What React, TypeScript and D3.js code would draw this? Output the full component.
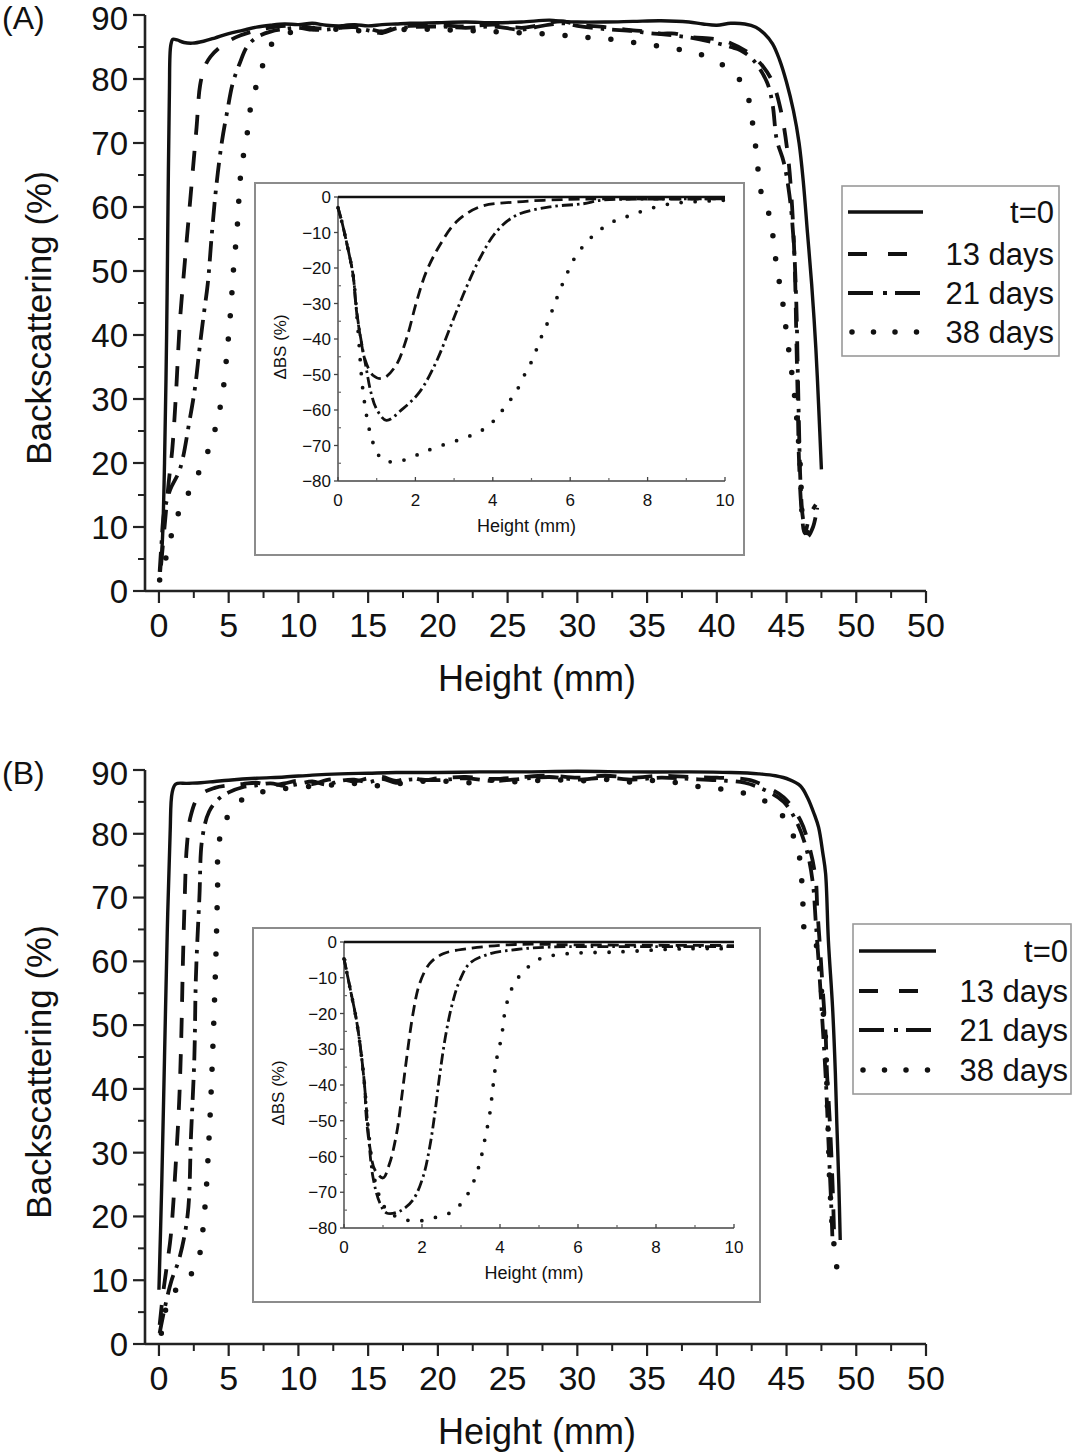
import React from "react";
import * as d3 from "d3";

type P = [number, number];

// ---------- tick labels / categories ----------
const MAIN_X_TICKS = [0, 5, 10, 15, 20, 25, 30, 35, 40, 45, 50, 55];
const MAIN_X_LABELS = ["0", "5", "10", "15", "20", "25", "30", "35", "40", "45", "50", "50"];
const MAIN_Y_TICKS = [0, 10, 20, 30, 40, 50, 60, 70, 80, 90];
const INSET_X_TICKS = [0, 2, 4, 6, 8, 10];
const INSET_Y_TICKS = [0, -10, -20, -30, -40, -50, -60, -70, -80];
const LEGEND_LABELS = ["t=0", "13 days", "21 days", "38 days"];

// ---------- Panel A main series: [height mm, backscattering %] ----------
const A_T0: P[] = [[0.1,3],[0.25,8],[0.4,20],[0.55,40],[0.65,60],[0.75,78],[0.85,85.3],[1.0,86.2],[1.3,86.1],[1.8,85.7],[2.4,85.6],[3.2,85.9],[4,86.4],[5,87.1],[6,87.6],[7,88.1],[8,88.4],[9,88.6],[10,88.5],[11,88.7],[12,88.4],[13,88.3],[14,88.5],[15,88.3],[16,88.5],[17,88.6],[18,88.7],[20,88.8],[22,88.9],[24,88.8],[26,88.9],[28,89.2],[29,89.0],[30,88.9],[32,88.9],[34,89.0],[36,89.1],[38,88.9],[39,88.6],[40,88.4],[41,88.7],[42,88.6],[42.8,88.1],[43.4,87.1],[44,85.5],[44.5,83],[45,79.5],[45.5,75],[45.9,70],[46.2,64],[46.5,56],[46.8,48],[47.1,38],[47.3,29],[47.5,19]];
const A_D13: P[] = [[0.15,4],[0.4,10],[0.7,17],[0.95,22],[1.2,30],[1.5,42],[1.8,50],[2.1,57.5],[2.4,65],[2.7,72.5],[2.95,79],[3.3,82],[3.7,83.5],[4.4,85],[5.5,86.5],[7,87.6],[8.5,88.2],[10,88.3],[11,88],[12,87.9],[13,88.2],[14,88.4],[15,87.9],[16,87.4],[17,88.1],[18,88.3],[20,88.4],[22,88.2],[24,88.5],[26,88],[27,88.3],[28,88.8],[29,89],[30,88.5],[32,88.1],[34,87.6],[35,87.4],[36,87.1],[37,87.1],[38,86.6],[40,86.2],[41,85.6],[42.2,84.2],[43.3,82],[44,79.5],[44.6,75],[45.1,68],[45.4,60],[45.6,50],[45.7,40],[45.8,30],[45.9,20],[46.1,12],[46.3,9],[46.7,12],[47.1,13.5]];
const A_D21: P[] = [[0.05,3],[0.2,8],[0.35,12],[0.8,15.8],[1.5,19],[2.2,26.7],[2.6,32],[2.9,37.7],[3.2,43],[3.5,48],[3.8,56],[4.1,63],[4.5,70],[4.9,75],[5.3,79.4],[5.8,82.5],[6.3,85],[7,86.5],[8,87.4],[9,87.8],[10,88],[11,87.7],[12,87.7],[13,88],[14,88.1],[15,87.6],[16,87.2],[17,87.9],[18,88.1],[20,88.2],[22,88],[24,88.2],[26,87.7],[27,88.1],[28,88.5],[29,88.7],[30,88.3],[32,87.8],[34,87.5],[35,87.2],[36,87],[38,86.5],[40,85.6],[41,85],[41.7,84.5],[42.6,83],[43.6,79.5],[44,76],[44.3,70.5],[44.8,67],[45.2,62],[45.5,55],[45.7,45],[45.8,35],[45.9,25],[46.0,17],[46.2,11],[46.5,8.5],[46.9,10],[47.2,13]];
const A_D38: P[] = [[0.05,1.7],[0.3,3.3],[0.8,8],[1.5,12.7],[2.6,17.3],[3.8,23.6],[4.5,30],[4.9,37.7],[5.2,45.5],[5.3,49],[5.45,52.8],[5.6,56.4],[5.7,60],[5.8,63.7],[6.0,67.3],[6.3,71],[6.5,74.7],[6.9,78.3],[7.4,81.9],[8.2,85.8],[9,87],[10,87.5],[11,87.9],[12,87.6],[13,87.8],[14,87.5],[15,87.7],[16,87.3],[17,87.6],[18,87.8],[20,87.7],[22,87.6],[24,87.4],[26,87.2],[28,87],[30,86.6],[32,86.3],[34,85.7],[36,85.1],[38,84.3],[39.5,83.3],[40.7,81.8],[41.5,80.3],[42.3,76.7],[42.6,72.5],[42.9,67.3],[43.1,63],[43.8,58.4],[44.3,50.6],[44.7,45.5],[45,40.3],[45.6,30],[46,19],[46.2,11],[46.7,8.5],[47.1,8.3]];

// ---------- Panel B main series ----------
const B_T0: P[] = [[0.0,8.5],[0.2,25],[0.4,45],[0.6,65],[0.8,80],[0.95,86.5],[1.2,87.8],[2,87.9],[3,88],[4,88.2],[5,88.4],[7,88.7],[9,88.9],[11,89.2],[13,89.4],[15,89.5],[17,89.6],[20,89.6],[23,89.7],[26,89.7],[30,89.8],[34,89.7],[38,89.7],[41,89.6],[43,89.4],[44.2,89.1],[45.2,88.5],[46,87.5],[46.5,85.7],[47,83],[47.3,81],[47.6,77],[47.8,73.8],[48.0,63.3],[48.3,52.8],[48.5,42.5],[48.6,35],[48.75,25],[48.85,16.3]];
const B_D13: P[] = [[0.05,3],[0.3,8],[0.55,12],[0.85,17],[1.2,28],[1.45,38],[1.6,48],[1.72,60],[1.85,70],[2.0,78],[2.3,83],[2.9,86],[4,87.2],[5,87.6],[6,87.8],[7,88],[8,87.6],[9,87.9],[10,88.3],[11,87.8],[12,88.4],[13,88.6],[14,88.2],[15,88.7],[16,88.9],[17,88.3],[18,88.8],[19,88.4],[20,88.7],[22,88.9],[24,88.6],[26,88.9],[28,89.1],[30,88.8],[32,89.1],[34,88.8],[36,89.1],[38,88.9],[40,88.8],[42.4,88.4],[43.6,87.3],[44.8,85.7],[46,82.1],[46.7,77.4],[47.1,72.7],[47.2,68.5],[47.4,62.2],[47.6,55.5],[47.8,48.7],[47.9,42.5],[48.1,35],[48.3,25],[48.4,18]];
const B_D21: P[] = [[0.05,1.7],[0.4,5.5],[0.88,9.8],[1.47,13.5],[2.06,20.3],[2.3,32.7],[2.54,45],[2.65,57.5],[2.9,70],[3.1,79.2],[3.6,83.5],[4.3,85.5],[5,86.5],[6,87.3],[7,87.6],[8,87.9],[9,87.5],[10,87.8],[11,88.2],[12,87.7],[13,88.3],[14,88.5],[15,88.1],[16,88.6],[17,88],[18,88.5],[20,88.4],[22,88.7],[24,88.3],[26,88.6],[28,88.9],[30,88.5],[32,88.8],[34,88.5],[36,88.8],[38,88.6],[40,88.4],[42,88],[43.5,86.8],[44.8,85],[45.8,81.5],[46.5,77],[46.9,72],[47.1,66],[47.3,60],[47.5,53],[47.7,46],[47.85,40],[48.0,32],[48.2,22],[48.3,16]];
const B_D38: P[] = [[0.17,1.7],[0.5,5.5],[1.0,8],[1.8,9.5],[2.77,12.9],[3.25,20.3],[3.6,32.7],[3.84,45],[4.08,60.5],[4.2,71],[4.3,78.6],[4.9,82.6],[5.5,84.5],[6.5,86],[8,86.8],[10,87.3],[12,87.6],[14,87.9],[16,87.5],[18,88.1],[20,88.3],[22,88],[24,88.4],[26,88.1],[28,88.5],[30,88.3],[32,88.5],[34,88.1],[36,88.4],[38,87.6],[40,87.1],[41.7,86.5],[43.3,85.3],[44.8,82.6],[45.6,79],[46,75.4],[46.1,72.3],[46.2,68],[46.3,64.9],[47.2,62.2],[47.4,58.1],[47.6,52.8],[47.8,47.6],[47.9,39.8],[47.95,35.9],[48,32.3],[48.05,28.5],[48.1,24.9],[48.2,21.3],[48.3,17.6],[48.5,13.9],[48.7,10.2]];

// ---------- Inset series: [height mm, ΔBS %] ----------
const INSET_T0: P[] = [[0,0],[10,0]];
const IA_D13: P[] = [[0,-3],[0.1,-7],[0.22,-12.7],[0.39,-22],[0.47,-31.4],[0.6,-40.8],[0.69,-45.5],[0.9,-50.2],[1.16,-51.1],[1.5,-47.4],[1.77,-39.9],[2.03,-29.5],[2.28,-21.1],[2.63,-13.6],[3.06,-7],[3.66,-2.8],[4.6,-1.4],[5.9,-0.7],[7,-0.5],[8.5,-0.6],[10,-0.5]];
const IA_D21: P[] = [[0,-3],[0.1,-7],[0.22,-12.7],[0.39,-22],[0.47,-31],[0.56,-38],[0.73,-48.3],[0.85,-55],[0.99,-59.6],[1.25,-62.9],[1.68,-59.6],[2.11,-54.9],[2.54,-46.4],[2.89,-37],[3.23,-27.7],[3.66,-17.4],[4.09,-9.8],[4.6,-5.2],[5.47,-2.8],[6.34,-1.9],[6.8,-0.9],[8,-0.6],[10,-0.5]];
const IA_D38: P[] = [[0,-3],[0.1,-7],[0.22,-12.7],[0.39,-22],[0.5,-35],[0.65,-55],[0.82,-66],[0.95,-70.4],[1.16,-74.1],[1.59,-74.4],[2.03,-72.7],[2.46,-70.8],[3.23,-68],[3.66,-66.1],[4.0,-63.3],[4.35,-58.6],[4.6,-54.9],[4.86,-49.2],[5.04,-45.5],[5.2,-40.8],[5.39,-36.1],[5.65,-28.6],[5.9,-22],[6.16,-16.4],[6.6,-10.8],[7.1,-7],[7.55,-5.2],[8.05,-3.3],[8.6,-1.9],[9.1,-1.4],[10,-0.9]];
const IB_D13: P[] = [[0,-4.7],[0.15,-12.6],[0.32,-21.9],[0.44,-31.2],[0.53,-40.5],[0.57,-48.8],[0.66,-57.2],[0.79,-63.7],[1.0,-66],[1.17,-61.9],[1.35,-53.5],[1.47,-44.2],[1.6,-33],[1.77,-20],[1.94,-11.6],[2.2,-6],[2.54,-3.3],[3.14,-1.9],[4.4,-0.7],[6,-0.8],[8,-0.9],[10,-1]];
const IB_D21: P[] = [[0,-4.7],[0.15,-12.6],[0.32,-21.9],[0.44,-31.2],[0.53,-40.5],[0.6,-50],[0.74,-65.6],[0.92,-73],[1.09,-75.8],[1.43,-75.3],[1.77,-72.1],[2.03,-65.6],[2.2,-57.2],[2.33,-47.9],[2.46,-36.7],[2.63,-24.7],[2.8,-16.3],[2.97,-10.7],[3.22,-6],[3.74,-3.3],[4.42,-2.1],[5.28,-1.4],[7,-1.3],[10,-1.3]];
const IB_D38: P[] = [[0,-4.7],[0.15,-12.6],[0.32,-21.9],[0.44,-31.2],[0.53,-40.5],[0.62,-52],[0.83,-68.4],[1.09,-74.9],[1.43,-77.2],[1.86,-78.1],[2.28,-77.2],[2.71,-75.8],[3.05,-72.6],[3.31,-67.4],[3.48,-61.9],[3.61,-55.3],[3.74,-47.9],[3.82,-40.5],[3.91,-33],[4.04,-26.5],[4.12,-20],[4.25,-14.4],[4.42,-10.7],[4.68,-7.4],[5.02,-4.7],[5.7,-3.3],[6.99,-2.8],[8.7,-1.9],[10,-1.9]];

const FONT = '"Liberation Sans", Arial, Helvetica, sans-serif';
const INK = "#111";

type Sty = { dash?: string; w: number; cap: "butt" | "round" };
const MAIN_STY: Sty[] = [
  { w: 3.4, cap: "butt" },
  { dash: "20 16", w: 3.8, cap: "butt" },
  { dash: "20 8 3.5 8", w: 3.8, cap: "butt" },
  { dash: "0 23", w: 5.5, cap: "round" },
];
const INSET_STY: Sty[] = [
  { w: 2.6, cap: "butt" },
  { dash: "11 6", w: 2.8, cap: "butt" },
  { dash: "11 4 2.5 4", w: 2.8, cap: "butt" },
  { dash: "0 14", w: 3.8, cap: "round" },
];
const LEGEND_STY: Sty[] = [
  { w: 3.6, cap: "butt" },
  { dash: "19 21", w: 3.8, cap: "butt" },
  { dash: "25 10 4 8", w: 3.8, cap: "butt" },
  { dash: "0 21.5", w: 5.5, cap: "round" },
];

type PanelCfg = {
  label: string;
  yTop: number;
  yBot: number;
  series: P[][];
  inset: { fx0: number; fy0: number; fx1: number; fy1: number; ax0: number; ax1: number; ay0: number; ay1: number; series: P[][] };
  legend: { x0: number; y0: number; x1: number; y1: number; lx0: number; lx1: number; tx: number; ys: number[] };
};

const PANELS: PanelCfg[] = [
  {
    label: "(A)",
    yTop: 15,
    yBot: 591,
    series: [A_T0, A_D13, A_D21, A_D38],
    inset: { fx0: 255, fy0: 183, fx1: 744, fy1: 555, ax0: 338, ax1: 725, ay0: 197, ay1: 481, series: [INSET_T0, IA_D13, IA_D21, IA_D38] },
    legend: { x0: 842, y0: 186, x1: 1059, y1: 356, lx0: 848, lx1: 923, tx: 1054, ys: [212, 254, 293, 332] },
  },
  {
    label: "(B)",
    yTop: 770,
    yBot: 1344,
    series: [B_T0, B_D13, B_D21, B_D38],
    inset: { fx0: 253, fy0: 928, fx1: 760, fy1: 1302, ax0: 344, ax1: 734, ay0: 942, ay1: 1228, series: [INSET_T0, IB_D13, IB_D21, IB_D38] },
    legend: { x0: 853, y0: 924, x1: 1071, y1: 1094, lx0: 859, lx1: 936, tx: 1068, ys: [951, 991, 1030, 1070] },
  },
];

function Path({ pts, x, y, s }: { pts: P[]; x: d3.ScaleLinear<number, number>; y: d3.ScaleLinear<number, number>; s: Sty }) {
  const gen = d3
    .line<P>()
    .x((d) => x(d[0]))
    .y((d) => y(d[1]))
    .curve(d3.curveCatmullRom.alpha(0.5));
  return (
    <path
      d={gen(pts) || ""}
      fill="none"
      stroke={INK}
      strokeWidth={s.w}
      strokeDasharray={s.dash}
      strokeLinecap={s.cap}
      strokeLinejoin="round"
    />
  );
}

function Panel({ cfg }: { cfg: PanelCfg }) {
  const x = d3.scaleLinear().domain([-1, 55]).range([145, 926]);
  const y = d3.scaleLinear().domain([0, 90]).range([cfg.yBot, cfg.yTop]);
  const ix = d3.scaleLinear().domain([0, 10]).range([cfg.inset.ax0, cfg.inset.ax1]);
  const iy = d3.scaleLinear().domain([-80, 0]).range([cfg.inset.ay1, cfg.inset.ay0]);
  const xMinor = d3.range(2.5, 55, 5);
  const yMinor = d3.range(5, 90, 10);
  const ixMinor = d3.range(1, 10, 2);
  const iyMinor = d3.range(-75, 0, 10);
  const midY = (cfg.yTop + cfg.yBot) / 2;
  const L = cfg.legend;
  const I = cfg.inset;
  const order = [3, 2, 1, 0];
  return (
    <g>
      {/* panel label */}
      <text x={2} y={cfg.yTop + 14} fontSize={32} fontFamily={FONT} fill={INK}>
        {cfg.label}
      </text>
      {/* main axes */}
      <line x1={x(-1)} x2={x(-1)} y1={y(0)} y2={y(90)} stroke="#222" strokeWidth={2.6} />
      <line x1={x(-1)} x2={x(55)} y1={y(0)} y2={y(0)} stroke="#222" strokeWidth={2.6} />
      {MAIN_Y_TICKS.map((t) => (
        <g key={"y" + t}>
          <line x1={x(-1) - 12} x2={x(-1)} y1={y(t)} y2={y(t)} stroke="#222" strokeWidth={2.2} />
          <text x={128} y={y(t)} dy={t === 90 ? "0.44em" : "0.36em"} textAnchor="end" fontSize={33} fontFamily={FONT} fill={INK}>
            {t}
          </text>
        </g>
      ))}
      {yMinor.map((t) => (
        <line key={"ym" + t} x1={x(-1) - 7} x2={x(-1)} y1={y(t)} y2={y(t)} stroke="#222" strokeWidth={2} />
      ))}
      {MAIN_X_TICKS.map((t, i) => (
        <g key={"x" + t}>
          <line x1={x(t)} x2={x(t)} y1={y(0)} y2={y(0) + 12} stroke="#222" strokeWidth={2.2} />
          <text x={x(t)} y={y(0) + 46} textAnchor="middle" fontSize={34} fontFamily={FONT} fill={INK}>
            {MAIN_X_LABELS[i]}
          </text>
        </g>
      ))}
      {xMinor.map((t) => (
        <line key={"xm" + t} x1={x(t)} x2={x(t)} y1={y(0)} y2={y(0) + 7} stroke="#222" strokeWidth={2} />
      ))}
      <text x={537} y={y(0) + 100} textAnchor="middle" fontSize={36} fontFamily={FONT} fill={INK}>
        Height (mm)
      </text>
      <text
        transform={`translate(38,${midY + 15}) rotate(-90)`}
        textAnchor="middle"
        dy="0.36em"
        fontSize={35}
        fontFamily={FONT}
        fill={INK}
      >
        Backscattering (%)
      </text>

      {/* main curves */}
      {order.map((k) => (
        <Path key={"s" + k} pts={cfg.series[k]} x={x} y={y} s={MAIN_STY[k]} />
      ))}

      {/* inset */}
      <rect x={I.fx0} y={I.fy0} width={I.fx1 - I.fx0} height={I.fy1 - I.fy0} fill="#fff" stroke="#8c8c8c" strokeWidth={2} />
      <line x1={ix(0)} x2={ix(0)} y1={iy(0)} y2={iy(-80)} stroke="#444" strokeWidth={1.4} />
      <line x1={ix(0)} x2={ix(10)} y1={iy(-80)} y2={iy(-80)} stroke="#444" strokeWidth={1.4} />
      {INSET_Y_TICKS.map((t) => (
        <g key={"iy" + t}>
          <line x1={ix(0) - 4} x2={ix(0)} y1={iy(t)} y2={iy(t)} stroke="#444" strokeWidth={1.3} />
          <text x={ix(0) - 7} y={iy(t)} dy="0.36em" textAnchor="end" fontSize={17} fontFamily={FONT} fill={INK}>
            {t === 0 ? "0" : "\u2212" + Math.abs(t)}
          </text>
        </g>
      ))}
      {iyMinor.map((t) => (
        <line key={"iym" + t} x1={ix(0)} x2={ix(0) + 3} y1={iy(t)} y2={iy(t)} stroke="#666" strokeWidth={1.2} />
      ))}
      {INSET_X_TICKS.map((t) => (
        <g key={"ix" + t}>
          <line x1={ix(t)} x2={ix(t)} y1={iy(-80)} y2={iy(-80) - 4} stroke="#444" strokeWidth={1.3} />
          <text x={ix(t)} y={iy(-80) + 25} textAnchor="middle" fontSize={17} fontFamily={FONT} fill={INK}>
            {t}
          </text>
        </g>
      ))}
      {ixMinor.map((t) => (
        <line key={"ixm" + t} x1={ix(t)} x2={ix(t)} y1={iy(-80)} y2={iy(-80) - 3} stroke="#666" strokeWidth={1.2} />
      ))}
      <text x={(ix(0) + ix(10)) / 2 - 5} y={iy(-80) + 51} textAnchor="middle" fontSize={18} fontFamily={FONT} fill={INK}>
        Height (mm)
      </text>
      <text
        transform={`translate(${I.fx0 + 25},${(iy(0) + iy(-80)) / 2 + 8}) rotate(-90)`}
        textAnchor="middle"
        dy="0.36em"
        fontSize={17}
        fontFamily={FONT}
        fill={INK}
      >
        ΔBS (%)
      </text>
      {order.map((k) => (
        <Path key={"is" + k} pts={I.series[k]} x={ix} y={iy} s={INSET_STY[k]} />
      ))}

      {/* legend */}
      <rect x={L.x0} y={L.y0} width={L.x1 - L.x0} height={L.y1 - L.y0} fill="#fff" stroke="#999" strokeWidth={1.6} />
      {LEGEND_LABELS.map((lab, k) => (
        <g key={"lg" + k}>
          <line
            x1={k === 3 ? L.lx0 + 4 : L.lx0}
            x2={L.lx1}
            y1={L.ys[k]}
            y2={L.ys[k]}
            stroke={INK}
            strokeWidth={LEGEND_STY[k].w}
            strokeDasharray={LEGEND_STY[k].dash}
            strokeLinecap={LEGEND_STY[k].cap}
          />
          <text x={L.tx} y={L.ys[k]} dy="0.36em" textAnchor="end" fontSize={31} fontFamily={FONT} fill={INK}>
            {lab}
          </text>
        </g>
      ))}
    </g>
  );
}

export default function App() {
  return (
    <svg
      width={1084}
      height={1455}
      viewBox="0 0 1084 1455"
      style={{ position: "absolute", left: 0, top: 0, background: "#fff" }}
    >
      <rect x={0} y={0} width={1084} height={1455} fill="#fff" />
      {PANELS.map((p) => (
        <Panel key={p.label} cfg={p} />
      ))}
    </svg>
  );
}
